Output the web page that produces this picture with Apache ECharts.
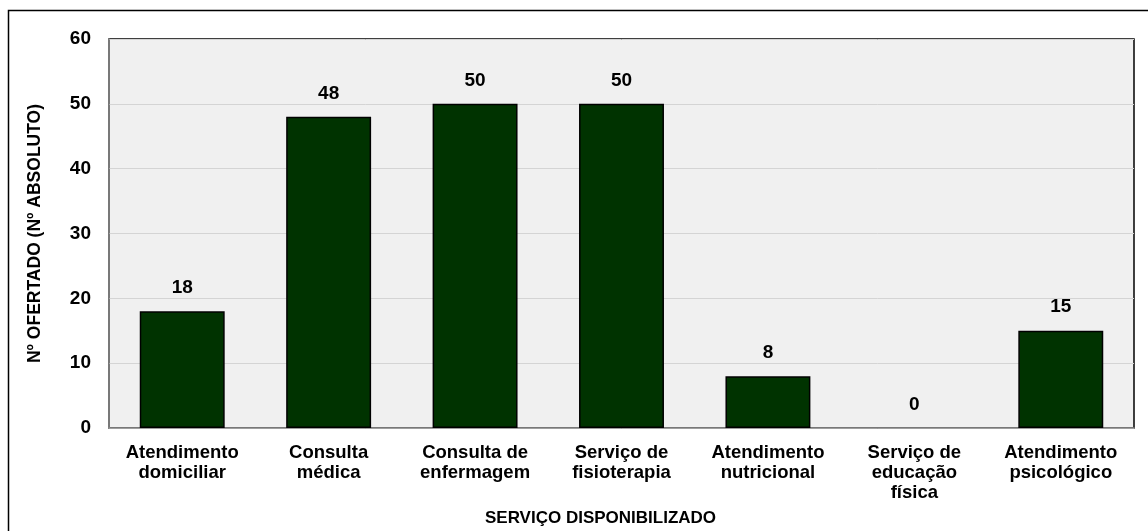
<!DOCTYPE html>
<html>
<head>
<meta charset="utf-8">
<script src="https://cdn.jsdelivr.net/npm/echarts@6/dist/echarts.min.js"></script>
<style>
  html, body { margin: 0; padding: 0; background: #ffffff; }
  #chart { width: 1148px; height: 531px; }
</style>
</head>
<body>
<div id="chart"></div>
<script>
// Services offered and how many units provide each
const categories = [
  'Atendimento\ndomiciliar',
  'Consulta\nmédica',
  'Consulta de\nenfermagem',
  'Serviço de\nfisioterapia',
  'Atendimento\nnutricional',
  'Serviço de\neducação\nfísica',
  'Atendimento\npsicológico'
];
const offered = [18, 48, 50, 50, 8, 0, 15];
const yTicks = { min: 0, max: 60, interval: 10 };

const FONT = '"Liberation Sans", Arial, sans-serif';

// a zero-height bar draws no outline
const barData = offered.map(v => ({
  value: v,
  itemStyle: v === 0 ? { borderWidth: 0 } : undefined
}));

const chart = echarts.init(document.getElementById('chart'), null, { renderer: 'canvas' });
chart.setOption({
  animation: false,
  backgroundColor: '#ffffff',
  graphic: [
    {
      type: 'rect',
      shape: { x: 8.5, y: 10.5, width: 1200, height: 600 },
      style: { fill: 'none', stroke: '#000000', lineWidth: 1.5 },
      z: 0
    }
  ],
  grid: {
    left: 109, right: 14, top: 39, bottom: 103,
    outerBoundsMode: 'none',
    containLabel: false,
    show: true,
    backgroundColor: '#f0f0f0',
    borderColor: '#000000',
    borderWidth: 1.5
  },
  xAxis: {
    type: 'category',
    data: categories,
    name: 'SERVIÇO DISPONIBILIZADO',
    nameLocation: 'middle',
    nameGap: 82,
    nameTextStyle: {
      fontFamily: FONT, fontWeight: 'bold', fontSize: 17, color: '#000',
      padding: [0, 42, 0, 0]
    },
    axisLine: { lineStyle: { color: '#8c8c8c', width: 1.5 } },
    axisTick: { show: false },
    axisLabel: {
      fontFamily: FONT, fontWeight: 'bold', fontSize: 18.5, color: '#000',
      lineHeight: 20, margin: 15, interval: 0
    }
  },
  yAxis: {
    type: 'value',
    min: yTicks.min, max: yTicks.max, interval: yTicks.interval,
    name: 'Nº OFERTADO (Nº ABSOLUTO)',
    nameLocation: 'middle',
    nameGap: 65,
    nameRotate: 90,
    nameTextStyle: { fontFamily: FONT, fontWeight: 'bold', fontSize: 17.5, color: '#000' },
    axisLine: { show: true, lineStyle: { color: '#8c8c8c', width: 1.5 } },
    axisTick: { show: false },
    axisLabel: { fontFamily: FONT, fontWeight: 'bold', fontSize: 19, color: '#000', margin: 18 },
    splitLine: { lineStyle: { color: '#d4d4d4', width: 1 } }
  },
  series: [{
    type: 'bar',
    data: barData,
    barWidth: '58%',
    itemStyle: { color: '#003300', borderColor: '#000000', borderWidth: 1.5 },
    label: {
      show: true,
      position: 'top',
      distance: 14,
      fontFamily: FONT, fontWeight: 'bold', fontSize: 19, color: '#000'
    }
  }]
});
</script>
</body>
</html>
